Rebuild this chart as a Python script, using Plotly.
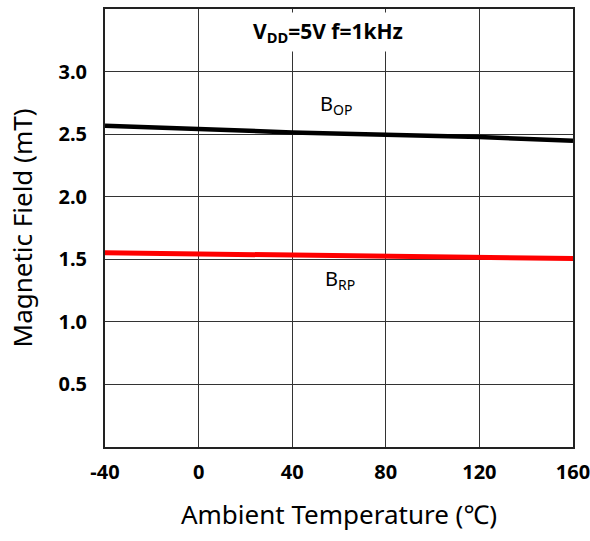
import plotly.graph_objects as go

temps = [-40, 0, 40, 80, 120, 160]
bop = [2.568, 2.541, 2.514, 2.496, 2.477, 2.448]
brp = [1.552, 1.544, 1.534, 1.52, 1.514, 1.506]
xticks = [-40, 0, 40, 80, 120, 160]
xtick_labels = ["-40", "0", "40", "80", "120", "160"]
yticks = [0.5, 1.0, 1.5, 2.0, 2.5, 3.0]
ytick_labels = ["0.5", "1.0", "1.5", "2.0", "2.5", "3.0"]

font = "Noto Sans, Noto Sans CJK SC, sans-serif"

fig = go.Figure()
fig.add_trace(go.Scatter(x=temps, y=bop, mode="lines", line=dict(color="black", width=4.5),
                         showlegend=False))
fig.add_trace(go.Scatter(x=temps, y=brp, mode="lines", line=dict(color="#ff0000", width=5),
                         showlegend=False))

fig.add_annotation(xref="paper", yref="paper", x=0.4765, y=0.947, xanchor="center", yanchor="middle",
                   text="<b>V<sub>DD</sub>=5V f=1kHz</b>", showarrow=False,
                   font=dict(family=font, size=21, color="black"), bgcolor="white",
                   borderpad=4)
fig.add_annotation(x=58.7, y=2.736, text="B<sub>OP</sub>", showarrow=False,
                   font=dict(family=font, size=20, color="black"))
fig.add_annotation(x=60.4, y=1.336, text="B<sub>RP</sub>", showarrow=False,
                   font=dict(family=font, size=20, color="black"))

fig.update_layout(
    width=590, height=541,
    margin=dict(l=105, r=17, t=9, b=94),
    paper_bgcolor="white", plot_bgcolor="white",
    font=dict(family=font, color="black"),
)
fig.update_xaxes(range=[-40, 160], tickvals=xticks, ticktext=xtick_labels, showgrid=True,
                 gridcolor="#333", gridwidth=1, automargin=False,
                 showline=True, linecolor="#222", linewidth=2, mirror=True, zeroline=False,
                 ticks="outside", ticklen=6, tickcolor="rgba(0,0,0,0)", ticklabeloverflow="allow",
                 tickfont=dict(family=font, size=20, color="black", weight="bold"),
                 title=dict(text="Ambient Temperature (℃)", font=dict(family=font, size=26), standoff=22))
fig.update_yaxes(range=[0, 3.5], tickvals=yticks, ticktext=ytick_labels, showgrid=True, gridcolor="#333",
                 gridwidth=1, automargin=False, showline=True, linecolor="#222", linewidth=2, mirror=True,
                 zeroline=False, ticks="outside", ticklen=12, tickcolor="rgba(0,0,0,0)",
                 tickfont=dict(family=font, size=20, color="black", weight="bold"),
                 title=dict(text="Magnetic Field (mT)", font=dict(family=font, size=26), standoff=18))

fig.write_html("out.html", config={"displayModeBar": False},
               post_script="document.body.style.margin='0';")
